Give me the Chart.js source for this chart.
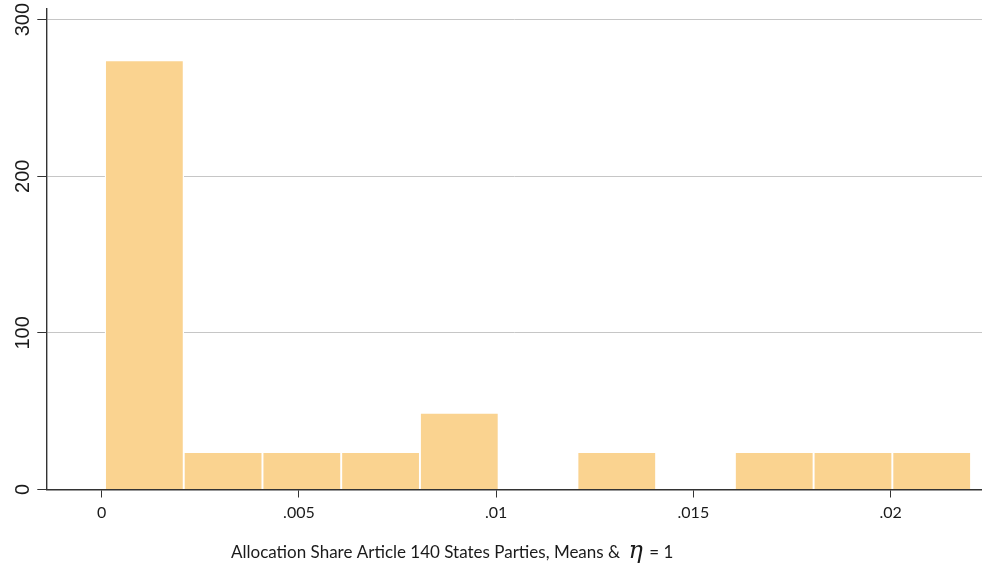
<!DOCTYPE html>
<html>
<head>
<meta charset="utf-8">
<script src="https://cdn.jsdelivr.net/npm/chart.js@4/dist/chart.umd.min.js"></script>
<style>
  html, body { margin: 0; padding: 0; background: #ffffff; }
  #wrap { width: 982px; height: 573px; position: relative; }
</style>
</head>
<body>
<div id="wrap"><canvas id="c" width="982" height="573"></canvas></div>
<script>
// Bin centres (allocation share) and histogram heights (density)
const BIN_CENTERS = [0.001082, 0.003078, 0.005074, 0.007070, 0.009066, 0.011062, 0.013058, 0.015054, 0.017050, 0.019046, 0.021042];
const DENSITY     = [274, 24, 24, 24, 49, 0, 24, 0, 24, 24, 24];
const X_TICKS = [0, 0.005, 0.01, 0.015, 0.02];
const X_TICK_LABELS = ['0', '.005', '.01', '.015', '.02'];
const Y_TICKS = [0, 100, 200, 300];
const X_TITLE_PARTS = ['Allocation Share Article 140 States Parties, Means & ', 'η', ' = 1'];

const points = BIN_CENTERS.map((x, i) => ({ x: x, y: DENSITY[i] }));

const titlePlugin = {
  id: 'xtitle',
  afterDraw(chart) {
    const ctx = chart.ctx;
    const fontA = '17px "Lato", "Noto Sans", sans-serif';
    const fontB = 'italic 24px "DejaVu Serif", "Liberation Serif", serif';
    const y = 558;
    ctx.save();
    ctx.fillStyle = '#1a1a1a';
    ctx.textBaseline = 'alphabetic';
    ctx.font = fontA; const w1 = ctx.measureText(X_TITLE_PARTS[0]).width;
    ctx.font = fontB; const w2 = ctx.measureText(X_TITLE_PARTS[1]).width;
    ctx.font = fontA; const w3 = ctx.measureText(X_TITLE_PARTS[2]).width;
    const cx = (chart.chartArea.left + chart.chartArea.right) / 2 - 62;
    let x = cx - (w1 + w2 + w3 + 6) / 2;
    ctx.textAlign = 'left';
    ctx.font = fontA; ctx.fillText(X_TITLE_PARTS[0], x, y); x += w1 + 4;
    ctx.font = fontB; ctx.fillText(X_TITLE_PARTS[1], x, y); x += w2 + 2;
    ctx.font = fontA; ctx.fillText(X_TITLE_PARTS[2], x, y);
    ctx.restore();
  }
};

new Chart(document.getElementById('c'), {
  type: 'bar',
  data: {
    datasets: [{
      data: points,
      backgroundColor: '#FAD390',
      borderColor: '#ffffff',
      borderWidth: 1.3,
      borderSkipped: 'bottom',
      barPercentage: 1,
      categoryPercentage: 1,
      grouped: false
    }]
  },
  options: {
    responsive: false,
    animation: false,
    devicePixelRatio: 1,
    layout: { padding: { top: 9, left: 0, right: 0, bottom: 0 } },
    plugins: { legend: { display: false }, tooltip: { enabled: false }, title: { display: false } },
    scales: {
      x: {
        type: 'linear',
        offset: false,
        min: -0.001404,
        max: 0.022317,
        afterBuildTicks: (s) => { s.ticks = X_TICKS.map(v => ({ value: v })); },
        afterFit: (s) => { s.height = 83.5; s.paddingLeft = 0; s.paddingRight = 0; },
        grid: { display: true, drawOnChartArea: false, drawTicks: true, tickLength: 8, tickColor: '#333333', offset: false },
        border: { display: true, color: '#333333', width: 1.4 },
        ticks: {
          color: '#1a1a1a',
          font: { family: '"Lato", "Noto Sans", sans-serif', size: 16 },
          padding: 6,
          maxRotation: 0,
          autoSkip: false,
          callback: (v) => { const i = X_TICKS.indexOf(v); return i >= 0 ? X_TICK_LABELS[i] : ''; }
        }
      },
      y: {
        type: 'linear',
        min: 0,
        max: 306.8,
        afterBuildTicks: (s) => { s.ticks = Y_TICKS.map(v => ({ value: v })); },
        afterFit: (s) => { s.width = 46.3; s.paddingTop = 0; s.paddingBottom = 0; },
        grid: {
          display: true,
          drawOnChartArea: true,
          drawTicks: true,
          tickLength: 9,
          color: (c) => (c.tick && c.tick.value === 0) ? 'rgba(0,0,0,0)' : '#c6c6c6',
          tickColor: '#333333',
          lineWidth: 1
        },
        border: { display: true, color: '#333333', width: 1.4 },
        ticks: {
          color: '#1a1a1a',
          font: { family: '"Liberation Sans", Arial, sans-serif', size: 20 },
          padding: -3,
          minRotation: 90,
          maxRotation: 90,
          crossAlign: 'center',
          autoSkip: false,
          callback: (v) => String(v)
        }
      }
    }
  },
  plugins: [titlePlugin]
});
</script>
</body>
</html>
